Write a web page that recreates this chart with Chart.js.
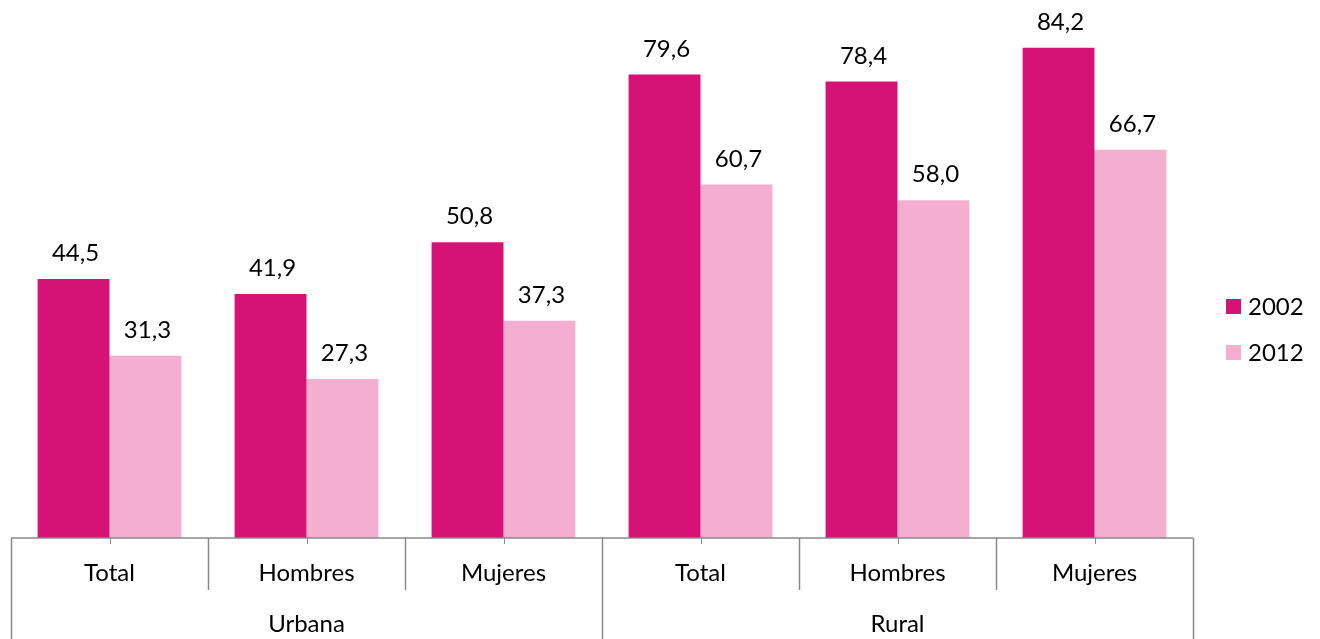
<!DOCTYPE html>
<html>
<head>
<meta charset="utf-8">
<script src="https://cdn.jsdelivr.net/npm/chart.js@4/dist/chart.umd.min.js"></script>
<style>
  html, body { margin: 0; padding: 0; background: #fff; }
  #wrap { width: 1320px; height: 639px; }
</style>
</head>
<body>
<div id="wrap"><canvas id="myChart" width="1320" height="639"></canvas></div>
<script>
var categories = ['Total', 'Hombres', 'Mujeres', 'Total', 'Hombres', 'Mujeres'];
var groups = ['Urbana', 'Rural'];
var groupSize = 3;
var seriesNames = ['2002', '2012'];
var values2002 = [44.5, 41.9, 50.8, 79.6, 78.4, 84.2];
var values2012 = [31.3, 27.3, 37.3, 60.7, 58.0, 66.7];
var seriesColors = ['#D71277', '#F4AECF'];

var FONT = 'Lato, "Open Sans", sans-serif';
var FONT_SIZE = 24;
var AXIS_COLOR = '#898989';

// value labels above each bar, with decimal comma
var valueLabels = {
    id: 'valueLabels',
    afterDatasetsDraw: function(chart) {
        var ctx = chart.ctx;
        ctx.save();
        ctx.font = FONT_SIZE + 'px ' + FONT;
        ctx.fillStyle = '#000';
        ctx.textAlign = 'center';
        ctx.textBaseline = 'alphabetic';
        chart.data.datasets.forEach(function(ds, i) {
            chart.getDatasetMeta(i).data.forEach(function(bar, j) {
                var txt = ds.data[j].toFixed(1).replace('.', ',');
                ctx.fillText(txt, bar.x + 2, bar.y - 18);
            });
        });
        ctx.restore();
    }
};

// category axis with two label levels
var groupedAxis = {
    id: 'groupedAxis',
    afterDraw: function(chart) {
        var ctx = chart.ctx;
        var x = chart.scales.x;
        var area = chart.chartArea;
        var base = area.bottom;
        var step = x.getPixelForValue(1) - x.getPixelForValue(0);
        ctx.save();
        ctx.strokeStyle = AXIS_COLOR;
        ctx.lineWidth = 1.5;
        ctx.beginPath();
        ctx.moveTo(area.left, base);
        ctx.lineTo(area.right, base);
        ctx.stroke();
        for (var i = 0; i <= categories.length; i++) {
            var px = Math.round(x.getPixelForValue(i) - step / 2) + 0.5;
            var len = (i % groupSize === 0) ? 101 : 52;
            ctx.beginPath();
            ctx.moveTo(px, base);
            ctx.lineTo(px, base + len);
            ctx.stroke();
        }
        ctx.lineWidth = 1;
        categories.forEach(function(c, i) {
            var cx = Math.round(x.getPixelForValue(i)) + 0.5;
            ctx.beginPath();
            ctx.moveTo(cx, base);
            ctx.lineTo(cx, base + 6);
            ctx.stroke();
        });
        ctx.font = FONT_SIZE + 'px ' + FONT;
        ctx.fillStyle = '#000';
        ctx.textAlign = 'center';
        ctx.textBaseline = 'middle';
        categories.forEach(function(c, i) {
            ctx.fillText(c, x.getPixelForValue(i), base + 35);
        });
        groups.forEach(function(g, k) {
            var a = x.getPixelForValue(k * groupSize);
            var b = x.getPixelForValue(k * groupSize + groupSize - 1);
            ctx.fillText(g, (a + b) / 2, base + 86);
        });
        ctx.restore();
    }
};

// legend at the right, beside the plot
var sideLegend = {
    id: 'sideLegend',
    afterDraw: function(chart) {
        var ctx = chart.ctx;
        var left = chart.chartArea.right + 33;
        var top = 299;
        ctx.save();
        ctx.font = FONT_SIZE + 'px ' + FONT;
        ctx.textAlign = 'left';
        ctx.textBaseline = 'middle';
        seriesNames.forEach(function(name, i) {
            var y = top + i * 46;
            ctx.fillStyle = seriesColors[i];
            ctx.fillRect(left, y, 15, 15);
            ctx.fillStyle = '#000';
            ctx.fillText(name, left + 22, y + 8);
        });
        ctx.restore();
    }
};

var ctx = document.getElementById('myChart').getContext('2d');
var myChart = new Chart(ctx, {
    type: 'bar',
    data: {
        labels: categories,
        datasets: [{
            label: seriesNames[0],
            data: values2002,
            backgroundColor: seriesColors[0]
        }, {
            label: seriesNames[1],
            data: values2012,
            backgroundColor: seriesColors[1]
        }]
    },
    options: {
        responsive: false,
        animation: false,
        categoryPercentage: 0.73,
        barPercentage: 1,
        layout: { padding: { left: 11, top: 14, bottom: 101, right: 127 } },
        scales: {
            x: { display: false },
            y: { display: false, min: 0, max: 90 }
        },
        plugins: {
            legend: { display: false },
            tooltip: { enabled: false }
        }
    },
    plugins: [valueLabels, groupedAxis, sideLegend]
});
</script>
</body>
</html>
